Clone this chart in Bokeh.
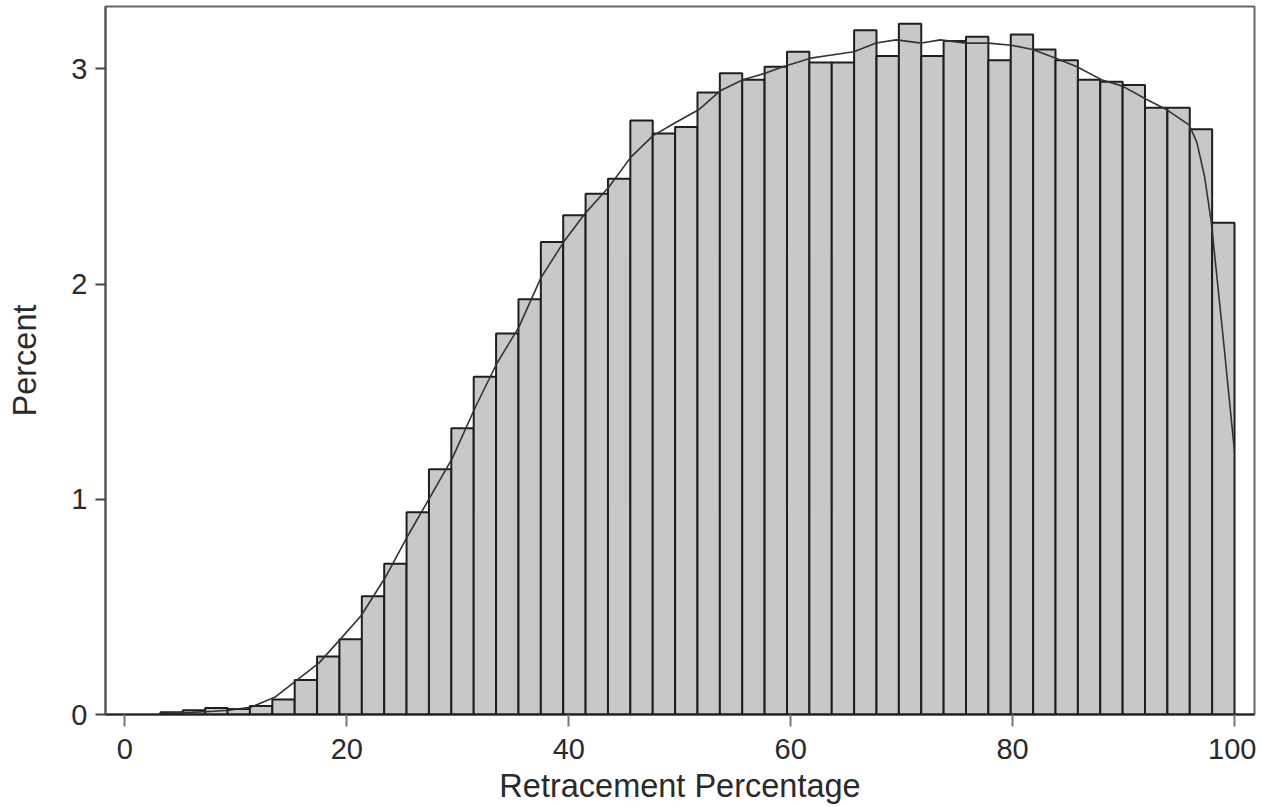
import numpy as np
from bokeh.plotting import figure
from bokeh.models import Range1d, FixedTicker
from bokeh.embed import file_html
from bokeh.resources import INLINE

# Histogram: 48 bins spanning the observed data range
bin_first_edge = 3.2
bin_last_edge = 100.0
n_bins = 48
percent = [
    0.01, 0.02, 0.03, 0.025, 0.04, 0.07, 0.16, 0.27, 0.35, 0.55,
    0.70, 0.94, 1.14, 1.33, 1.57, 1.77, 1.93, 2.196, 2.32, 2.42,
    2.49, 2.76, 2.70, 2.73, 2.89, 2.98, 2.95, 3.01, 3.08, 3.03,
    3.03, 3.18, 3.06, 3.21, 3.06, 3.13, 3.15, 3.04, 3.16, 3.09,
    3.04, 2.95, 2.94, 2.925, 2.82, 2.82, 2.72, 2.285,
]

# Kernel density curve
curve_x = [3.2, 6.0, 8.0, 9.4, 11.4, 13.5, 15.5, 17.5, 19.5, 21.3,
           23.5, 25.6, 27.5, 29.5, 31.6, 33.5, 35.5, 37.5, 39.6, 41.5,
           43.6, 45.6, 47.6, 49.6, 51.7, 53.7, 55.7, 57.7, 59.3, 61.8,
           63.7, 65.7, 67.7, 69.5, 71.8, 73.5, 75.8, 77.8, 79.9, 81.8,
           83.9, 85.8, 88.0, 89.9, 92.0, 93.9, 95.9, 96.6, 97.3, 97.9,
           99.0, 100.0]
curve_y = [0.005, 0.01, 0.015, 0.02, 0.035, 0.08, 0.16, 0.24, 0.355, 0.46,
           0.64, 0.84, 1.01, 1.19, 1.43, 1.63, 1.80, 2.03, 2.20, 2.33,
           2.45, 2.59, 2.69, 2.75, 2.81, 2.90, 2.95, 2.98, 3.01, 3.05,
           3.065, 3.08, 3.12, 3.135, 3.12, 3.135, 3.12, 3.12, 3.11, 3.09,
           3.05, 3.01, 2.95, 2.92, 2.86, 2.81, 2.74, 2.66, 2.50, 2.29,
           1.74, 1.22]

x_ticks = [0, 20, 40, 60, 80, 100]
y_ticks = [0, 1, 2, 3]

edges = np.linspace(bin_first_edge, bin_last_edge, n_bins + 1)

FONT = "Liberation Sans"
TEXT = "#2a2a2a"

p = figure(width=1256, height=806,
           x_range=Range1d(-1.75, 101.8), y_range=Range1d(0, 3.29),
           output_backend="svg", toolbar_location=None,
           min_border_left=105, min_border_right=2, min_border_top=6,
           min_border_bottom=0)

p.quad(left=edges[:-1], right=edges[1:], bottom=0, top=percent,
       fill_color="#c8c8c8", line_color="#1e1e1e", line_width=2)
p.line(curve_x, curve_y, line_color="#333333", line_width=1.6)

p.xgrid.visible = False
p.ygrid.visible = False
p.outline_line_color = "#666666"
p.outline_line_width = 2
p.background_fill_color = "white"
p.border_fill_color = "white"

p.xaxis.ticker = FixedTicker(ticks=x_ticks)
p.yaxis.ticker = FixedTicker(ticks=y_ticks)
p.xaxis.axis_label = "Retracement Percentage"
p.yaxis.axis_label = "Percent"

for ax in (p.xaxis[0], p.yaxis[0]):
    ax.minor_tick_line_color = None
    ax.major_tick_in = 0
    ax.major_tick_out = 10
    ax.major_tick_line_width = 2
    ax.axis_line_width = 2
    ax.major_label_text_font = FONT
    ax.major_label_text_font_size = "29px"
    ax.major_label_text_color = TEXT
    ax.axis_label_text_font = FONT
    ax.axis_label_text_font_size = "32.5px"
    ax.axis_label_text_font_style = "normal"
    ax.axis_label_text_color = TEXT
    ax.major_label_standoff = 8

p.xaxis.axis_line_color = "#1e1e1e"
p.xaxis.major_tick_line_color = "#777777"
p.xaxis.major_tick_out = 12
p.xaxis.major_label_standoff = 12
p.xaxis.axis_label_standoff = 6
p.yaxis.axis_line_color = "#555555"
p.yaxis.major_tick_line_color = "#444444"
p.yaxis.axis_label_standoff = 25

open("out.html", "w").write(file_html(p, INLINE))
